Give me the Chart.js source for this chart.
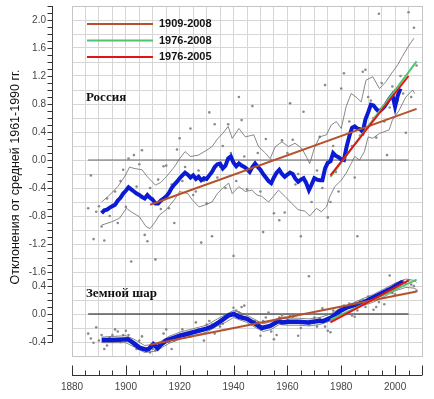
<!DOCTYPE html>
<html lang="ru">
<head>
<meta charset="utf-8">
<title>Отклонения температуры от средней 1961-1990 гг.</title>
<script src="https://cdn.jsdelivr.net/npm/chart.js@4.4.1/dist/chart.umd.min.js"></script>
<style>
  html, body { margin: 0; padding: 0; background: #fff; }
  #wrap { width: 434px; height: 399px; }
</style>
</head>
<body>
<div id="wrap"><canvas id="grafico" width="434" height="399"></canvas></div>
<script>
// Подписи осей
const xTickLabels = ['1880', '1900', '1920', '1940', '1960', '1980', '2000'];
const yTickValues = [2.0, 1.6, 1.2, 0.8, 0.4, 0.0, -0.4, -0.8, -1.2, -1.6, -1.8, -2.2, -2.6];
const yTickLabels = ['2.0', '1.6', '1.2', '0.8', '0.4', '0.0', '-0.4', '-0.8', '-1.2', '-1.6', '0.4', '0.0', '-0.4'];

// Панель «Земной шар» рисуется ниже на той же шкале
const globalOffset = -2.2;

// Годовые аномалии, 1886-2008
const yearlyStart = 1886;
const russiaYearly = [
  -0.69, -0.22, -1.13, -0.74, -0.66, -0.95, -1.15, -0.55, -0.80, -0.64,
  -0.45, -0.90, -0.30, -0.14, -0.67, 0.02, -1.45, 0.07, -0.38, -0.06,
  0.14, -1.07, -1.16, -0.40, -0.55, -1.42, -0.28, -0.70, -0.09, -0.08,
  -0.69, -0.35, -0.90, 0.15, 0.31, -0.30, -0.10, -0.20, 0.45, -0.50,
  -0.45, -0.15, -1.18, -0.30, -0.62, 0.68, -1.09, 0.51, -0.25, -0.10,
  0.20, -0.40, 0.51, 0.10, -1.37, -0.30, 0.90, 0.57, 0.05, -0.42,
  -0.15, 0.77, -0.05, 0.10, -0.45, -1.03, 0.30, -0.30, 0.00, -0.76,
  -0.20, -0.86, 0.28, -0.75, 0.10, 0.81, 0.29, -0.35, -0.20, -1.09,
  0.69, -0.30, -1.66, -0.60, -0.25, -0.15, 0.33, -0.40, 1.07, -0.82,
  -0.60, 0.20, -0.17, -0.45, 1.02, 1.24, 0.10, 0.55, 0.20, -0.25,
  -1.09, 0.35, 1.26, 1.29, 0.90, 0.85, 0.60, 0.32, 2.09, 1.10,
  0.55, 0.07, 0.75, 1.05, 1.00, 0.85, 1.20, 0.95, 0.39, 2.11,
  0.90, 1.89, 1.35
];
const globalYearly = [
  -0.28, -0.35, -0.41, -0.19, -0.38, -0.30, -0.50, -0.45, -0.34, -0.30,
  -0.22, -0.25, -0.40, -0.30, -0.24, -0.30, -0.40, -0.45, -0.50, -0.38,
  -0.32, -0.50, -0.52, -0.55, -0.50, -0.52, -0.44, -0.42, -0.28, -0.22,
  -0.40, -0.50, -0.38, -0.32, -0.30, -0.22, -0.33, -0.30, -0.32, -0.25,
  -0.12, -0.22, -0.24, -0.38, -0.15, -0.10, -0.15, -0.28, -0.14, -0.18,
  -0.14, -0.02, -0.02, -0.02, 0.09, 0.05, 0.02, 0.10, 0.12, 0.00,
  -0.10, -0.12, -0.10, -0.12, -0.31, -0.10, -0.05, 0.02, -0.25, -0.36,
  -0.30, -0.05, -0.02, -0.05, -0.08, -0.02, -0.04, -0.02, -0.31, -0.20,
  -0.12, -0.12, -0.15, 0.00, -0.05, -0.18, -0.06, 0.08, -0.18, -0.24,
  -0.26, 0.05, -0.02, 0.05, 0.10, 0.12, 0.00, 0.15, -0.02, -0.04,
  0.05, 0.18, 0.20, 0.10, 0.25, 0.20, 0.06, 0.10, 0.17, 0.28,
  0.14, 0.35, 0.55, 0.30, 0.28, 0.40, 0.46, 0.47, 0.44, 0.48,
  0.42, 0.40, 0.33
];

// Сглаженный ряд по России, 1891-2002
const smoothStart = 1891;
const russiaSmooth = [
  -0.76, -0.72, -0.71, -0.68, -0.66, -0.64, -0.58, -0.54, -0.48, -0.44,
  -0.39, -0.42, -0.45, -0.48, -0.50, -0.53, -0.55, -0.50, -0.54, -0.57,
  -0.62, -0.62, -0.58, -0.55, -0.52, -0.47, -0.40, -0.35, -0.31, -0.26,
  -0.22, -0.18, -0.21, -0.25, -0.22, -0.27, -0.24, -0.29, -0.26, -0.27,
  -0.22, -0.17, -0.10, -0.06, -0.05, -0.12, -0.08, 0.02, 0.05, -0.04,
  -0.09, -0.05, -0.08, -0.10, -0.13, -0.17, -0.10, -0.05, -0.10, -0.14,
  -0.20, -0.25, -0.30, -0.33, -0.25, -0.18, -0.14, -0.20, -0.24, -0.21,
  -0.18, -0.20, -0.27, -0.31, -0.28, -0.26, -0.33, -0.43, -0.35, -0.26,
  -0.28, -0.29, -0.29, -0.12, -0.04, -0.02, 0.10, 0.06, 0.04, 0.01,
  0.00, 0.19, 0.34, 0.46, 0.48, 0.45, 0.44, 0.40, 0.58, 0.68,
  0.79, 0.78, 0.73, 0.69, 0.72, 0.76, 0.82, 0.88, 0.93, 0.76,
  0.92, 1.02
];

// Границы доверительного интервала, Россия
const russiaUpperYears = [1891, 1894, 1897, 1899.5, 1901.4, 1903, 1906, 1908, 1911, 1913, 1915, 1918, 1920, 1922, 1924, 1927, 1930, 1932, 1934, 1936, 1938, 1939.5, 1942, 1944.4, 1947.5, 1949.3, 1951.8, 1953.6, 1955.5, 1958, 1960.4, 1962.8, 1965.3, 1967, 1968.3, 1970.2, 1972, 1974.5, 1976.3, 1978.2, 1980, 1981.8, 1983.7, 1985.5, 1987.4, 1989.2, 1991.7, 1994.2, 1996.6, 1999.1, 2001, 2002.7, 2005.2, 2007];
const russiaUpper = [-0.60, -0.50, -0.38, -0.24, -0.10, -0.12, -0.14, -0.24, -0.36, -0.32, -0.24, -0.10, 0.02, 0.12, 0.05, 0.07, 0.14, 0.19, 0.30, 0.38, 0.48, 0.31, 0.45, 0.33, 0.36, 0.19, 0.10, 0.02, 0.19, 0.26, 0.19, 0.24, 0.17, 0.05, -0.05, 0.19, 0.33, 0.36, 0.50, 0.55, 0.45, 0.76, 0.95, 0.90, 0.83, 1.14, 1.19, 1.02, 1.12, 1.26, 1.36, 1.48, 1.64, 1.74];
const russiaLowerYears = [1891, 1895, 1897.7, 1900.2, 1902, 1905, 1907.5, 1909, 1911, 1912.4, 1915, 1918, 1920, 1923, 1924.7, 1927.2, 1929.6, 1932, 1934, 1936, 1938.2, 1939.5, 1942, 1944.4, 1946.8, 1948.7, 1950.5, 1953, 1954.8, 1956.7, 1959.1, 1961.6, 1964, 1966.5, 1968.3, 1970.8, 1972.6, 1974.5, 1975.8, 1977.6, 1980, 1981.8, 1983.7, 1985, 1986.8, 1988.6, 1990, 1991.7, 1994.2, 1997.8, 1999, 2001.5, 2004, 2006.5, 2007.3];
const russiaLower = [-0.93, -0.88, -0.83, -0.69, -0.74, -0.81, -0.95, -0.98, -0.88, -0.79, -0.71, -0.57, -0.45, -0.48, -0.57, -0.67, -0.64, -0.60, -0.48, -0.40, -0.33, -0.48, -0.38, -0.45, -0.43, -0.50, -0.52, -0.60, -0.52, -0.43, -0.52, -0.62, -0.71, -0.73, -0.80, -0.69, -0.74, -0.67, -0.52, -0.38, -0.29, -0.19, -0.05, 0.05, 0.00, 0.12, 0.33, 0.31, 0.38, 0.43, 0.57, 0.71, 0.90, 1.00, 0.95];

// Сглаженный ряд и интервал, Земной шар
const globalSmoothYears = [1891, 1895, 1900.8, 1903, 1905, 1907.5, 1908.5, 1910.2, 1911.8, 1913, 1915, 1917, 1920, 1925, 1930, 1932, 1934.5, 1936, 1938.2, 1940.1, 1942, 1945, 1948.1, 1950.5, 1953.6, 1956.7, 1958, 1960.4, 1964, 1967.7, 1971.4, 1973.3, 1976.3, 1979.4, 1982.5, 1986.2, 1988.6, 1991.1, 1994.7, 1998.4, 2000.9, 2003];
const globalSmooth = [-0.37, -0.37, -0.36, -0.42, -0.48, -0.51, -0.50, -0.43, -0.49, -0.44, -0.38, -0.35, -0.31, -0.26, -0.21, -0.18, -0.12, -0.08, -0.02, 0.00, -0.04, -0.07, -0.14, -0.20, -0.17, -0.10, -0.12, -0.11, -0.11, -0.12, -0.10, -0.10, -0.05, 0.04, 0.10, 0.14, 0.17, 0.22, 0.29, 0.36, 0.42, 0.46];
const globalBandYears = [1891, 1900, 1903, 1907, 1909, 1911, 1913, 1916, 1920, 1925, 1930, 1934, 1937, 1940, 1942, 1945, 1948, 1951, 1954, 1957, 1960, 1964, 1968, 1972, 1976, 1980, 1984, 1988, 1992, 1996, 2000, 2004, 2007, 2008];
const globalUpper = [-0.33, -0.31, -0.36, -0.45, -0.44, -0.42, -0.39, -0.32, -0.26, -0.21, -0.16, -0.07, -0.01, 0.05, 0.03, -0.02, -0.08, -0.14, -0.11, -0.05, -0.06, -0.06, -0.07, -0.05, 0.00, 0.09, 0.15, 0.22, 0.28, 0.36, 0.44, 0.50, 0.48, 0.45];
const globalLower = [-0.41, -0.41, -0.47, -0.55, -0.54, -0.53, -0.49, -0.42, -0.36, -0.31, -0.26, -0.17, -0.12, -0.05, -0.08, -0.12, -0.19, -0.25, -0.22, -0.15, -0.16, -0.16, -0.17, -0.15, -0.10, -0.01, 0.06, 0.12, 0.17, 0.25, 0.33, 0.38, 0.37, 0.35];

// Линейные тренды
const trendLabels = ['1909-2008', '1976-2008', '1976-2005'];
const trendFromYear = [1909, 1976, 1976];
const trendToYear = [2008, 2008, 2005];
const russiaTrendFrom = [-0.64, -0.24, -0.22];
const russiaTrendTo = [0.73, 1.41, 1.20];
const globalTrendFrom = [-0.44, -0.08, -0.12];
const globalTrendTo = [0.32, 0.49, 0.48];
const trendColors = ['#b5512b', '#52c46f', '#e31414'];

// Нулевые линии
const zeroLineYears = [1886, 2005];

function toPoints(years, values, shift) {
    return years.map((yr, i) => ({ x: yr, y: values[i] + shift }));
}

function yearly(start, values, shift) {
    return values.map((v, i) => ({ x: start + i, y: v + shift }));
}

function lineSet(data, color, width, order) {
    return {
        data: data,
        borderColor: color,
        borderWidth: width,
        pointRadius: 0,
        tension: 0,
        fill: false,
        order: order
    };
}

function dotSet(data, order) {
    return {
        data: data,
        showLine: false,
        pointRadius: 1.3,
        pointBorderWidth: 0,
        pointBackgroundColor: '#8a8a8a',
        order: order
    };
}

// убираем отступы, которые Chart.js добавляет из-за ticks.padding
function noScalePadding(scale) {
    scale.paddingTop = 0;
    scale.paddingBottom = 0;
    scale.paddingLeft = 0;
    scale.paddingRight = 0;
}

const datasets = [];

// тренды поверх остального
trendLabels.forEach((label, i) => {
    datasets.push(lineSet([
        { x: trendFromYear[i], y: russiaTrendFrom[i] },
        { x: trendToYear[i], y: russiaTrendTo[i] }
    ], trendColors[i], 2, 3 - i));
    datasets.push(lineSet([
        { x: trendFromYear[i], y: globalTrendFrom[i] + globalOffset },
        { x: trendToYear[i], y: globalTrendTo[i] + globalOffset }
    ], trendColors[i], 2, 3 - i));
});

datasets.push(lineSet(yearly(smoothStart, russiaSmooth, 0), '#0b1bd3', 4, 5));
datasets.push(lineSet(toPoints(globalSmoothYears, globalSmooth, globalOffset), '#0b1bd3', 4.5, 5));
datasets.push(lineSet(toPoints(russiaUpperYears, russiaUpper, 0), '#6a6a6a', 0.8, 6));
datasets.push(lineSet(toPoints(russiaLowerYears, russiaLower, 0), '#6a6a6a', 0.8, 6));
datasets.push(lineSet(toPoints(globalBandYears, globalUpper, globalOffset), '#6a6a6a', 0.8, 6));
datasets.push(lineSet(toPoints(globalBandYears, globalLower, globalOffset), '#6a6a6a', 0.8, 6));
datasets.push(dotSet(yearly(yearlyStart, russiaYearly, 0), 7));
datasets.push(dotSet(yearly(yearlyStart, globalYearly, globalOffset), 7));
datasets.push(lineSet(zeroLineYears.map(yr => ({ x: yr, y: 0 })), '#666', 1, 8));
datasets.push(lineSet(zeroLineYears.map(yr => ({ x: yr, y: globalOffset })), '#111', 1.2, 8));

// Оси, легенда и подписи панелей
const oformlenie = {
    id: 'oformlenie',
    beforeDatasetsDraw(chart) {
        const { ctx, chartArea: a } = chart;
        ctx.save();
        ctx.strokeStyle = '#c4c4c4';
        ctx.lineWidth = 1;
        ctx.strokeRect(a.left + 0.5, a.top + 0.5, a.right - a.left, a.bottom - a.top);
        ctx.restore();
    },
    afterDraw(chart) {
        const { ctx, chartArea: a, scales: { x, y } } = chart;
        ctx.save();
        ctx.strokeStyle = '#333';
        ctx.lineWidth = 1;

        // вертикальная ось
        const ax = a.left - 19.5;
        ctx.beginPath();
        ctx.moveTo(ax, y.getPixelForValue(2.2));
        ctx.lineTo(ax, y.getPixelForValue(-2.6));
        for (let t = 22; t >= -26; t--) {
            const py = Math.round(y.getPixelForValue(t / 10)) + 0.5;
            ctx.moveTo(ax - 5, py);
            ctx.lineTo(ax, py);
        }
        ctx.stroke();

        // горизонтальная ось
        const ay = a.bottom + 19.5;
        ctx.beginPath();
        ctx.moveTo(x.getPixelForValue(1880), ay);
        ctx.lineTo(x.getPixelForValue(2010), ay);
        for (let yr = 1880; yr <= 2010; yr += 5) {
            const px = Math.round(x.getPixelForValue(yr)) + 0.5;
            const len = (yr % 20 === 0 || yr === 2010) ? 10 : 5;
            ctx.moveTo(px, ay);
            ctx.lineTo(px, ay - len);
        }
        ctx.stroke();

        // легенда
        ctx.font = 'bold 11px "Liberation Sans", Arial, sans-serif';
        ctx.textBaseline = 'middle';
        ctx.fillStyle = '#111';
        trendLabels.forEach((label, i) => {
            const ly = 24 + i * 16.5;
            ctx.strokeStyle = trendColors[i];
            ctx.lineWidth = 2;
            ctx.beginPath();
            ctx.moveTo(87, ly);
            ctx.lineTo(153, ly);
            ctx.stroke();
            ctx.fillText(label, 159, ly);
        });

        // названия панелей
        ctx.font = 'bold 13px "Liberation Serif", "Times New Roman", serif';
        ctx.fillText('Россия', 86, 98);
        ctx.fillText('Земной шар', 86, 294);

        // подпись оси Y
        ctx.translate(16, 177);
        ctx.rotate(-Math.PI / 2);
        ctx.textAlign = 'center';
        ctx.font = '12.5px "Liberation Sans", Arial, sans-serif';
        ctx.fillText('Отклонения от средней 1961-1990 гг.', 0, 0);
        ctx.restore();
    }
};

new Chart(document.getElementById('grafico'), {
    type: 'line',
    data: { datasets: datasets },
    options: {
        responsive: false,
        animation: false,
        layout: { padding: { top: 6, right: 12, left: 0, bottom: 0 }, autoPadding: false },
        plugins: {
            legend: { display: false },
            tooltip: { enabled: false }
        },
        scales: {
            x: {
                type: 'linear',
                min: 1880,
                max: 2010,
                afterFit: (scale) => { scale.height = 43; noScalePadding(scale); },
                afterBuildTicks: (scale) => {
                    const ticks = [];
                    for (let yr = 1880; yr <= 2010; yr += 5) ticks.push({ value: yr });
                    scale.ticks = ticks;
                },
                grid: { color: '#d6d6d6', drawTicks: false },
                border: { display: false },
                ticks: {
                    autoSkip: false,
                    maxRotation: 0,
                    padding: 25,
                    color: '#444',
                    font: { family: '"Liberation Sans", Arial, sans-serif', size: 10 },
                    callback: (v) => xTickLabels.includes(String(v)) ? String(v) : ''
                }
            },
            y: {
                type: 'linear',
                min: -2.8,
                max: 2.2,
                afterFit: (scale) => { scale.width = 72; noScalePadding(scale); },
                afterBuildTicks: (scale) => {
                    const ticks = [];
                    for (let t = -28; t <= 22; t += 2) ticks.push({ value: t / 10 });
                    scale.ticks = ticks;
                },
                grid: { color: '#d6d6d6', drawTicks: false },
                border: { display: false },
                ticks: {
                    autoSkip: false,
                    padding: 26,
                    color: '#444',
                    font: { family: '"Liberation Sans", Arial, sans-serif', size: 10 },
                    callback: (v) => {
                        const i = yTickValues.findIndex(t => Math.abs(t - v) < 1e-6);
                        return i >= 0 ? yTickLabels[i] : '';
                    }
                }
            }
        }
    },
    plugins: [oformlenie]
});
</script>
</body>
</html>
